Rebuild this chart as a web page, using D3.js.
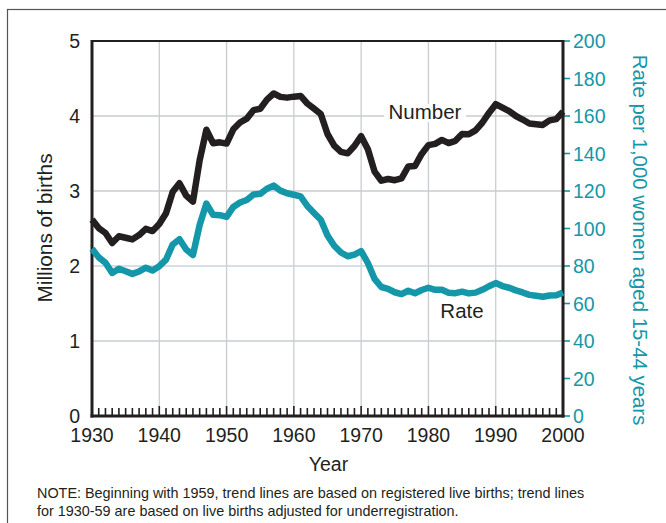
<!DOCTYPE html>
<html>
<head>
<meta charset="utf-8">
<script src="https://cdn.jsdelivr.net/npm/d3@7"></script>
<style>
  body { margin: 0; background: #fff; }
  svg { font-family: "Liberation Sans", Arial, sans-serif; }
</style>
</head>
<body>
<div id="chart"></div>
<script>
var years = d3.range(1930, 2001);
var births = [2.618, 2.506, 2.440, 2.307, 2.396, 2.377, 2.355, 2.413, 2.496, 2.466,
  2.559, 2.703, 2.989, 3.104, 2.939, 2.858, 3.411, 3.817, 3.637, 3.649,
  3.632, 3.823, 3.913, 3.965, 4.078, 4.097, 4.218, 4.300, 4.255, 4.245,
  4.258, 4.268, 4.167, 4.098, 4.027, 3.760, 3.606, 3.521, 3.502, 3.600,
  3.731, 3.556, 3.258, 3.137, 3.160, 3.144, 3.168, 3.327, 3.333, 3.494,
  3.612, 3.629, 3.681, 3.639, 3.669, 3.761, 3.757, 3.809, 3.910, 4.041,
  4.158, 4.111, 4.065, 4.000, 3.953, 3.900, 3.891, 3.881, 3.942, 3.959, 4.059];
var rates = [89.2, 84.6, 81.7, 76.3, 78.5, 77.2, 75.8, 77.1, 79.1, 77.6,
  79.9, 83.4, 91.5, 94.3, 88.8, 85.9, 101.9, 113.3, 107.3, 107.1,
  106.2, 111.5, 113.9, 115.2, 118.1, 118.5, 121.2, 122.9, 120.2, 118.8,
  118.0, 117.1, 112.0, 108.3, 104.7, 96.3, 90.8, 87.2, 85.2, 86.1,
  87.9, 81.6, 73.1, 68.8, 67.8, 66.0, 65.0, 66.8, 65.5, 67.2,
  68.4, 67.3, 67.3, 65.7, 65.5, 66.3, 65.4, 65.8, 67.3, 69.2,
  70.9, 69.3, 68.4, 67.0, 65.9, 64.6, 64.1, 63.6, 64.3, 64.4, 65.9];
var leftTicks = [0, 1, 2, 3, 4, 5];
var rightTicks = [0, 20, 40, 60, 80, 100, 120, 140, 160, 180, 200];
var decadeTicks = [1930, 1940, 1950, 1960, 1970, 1980, 1990, 2000];

var W = 666, H = 523;
var plotL = 92, plotR = 563, plotT = 41, plotB = 416;
var teal = "#1497a8", dark = "#231f20", grid = "#c9cdd1";

var svg = d3.select("#chart").append("svg").attr("width", W).attr("height", H);

// outer frame
svg.append("rect").attr("x", 7.5).attr("y", 9.5).attr("width", 700).attr("height", 600)
  .attr("fill", "none").attr("stroke", "#555").attr("stroke-width", 1.2);

var x = d3.scaleLinear().domain([1930, 2000]).range([plotL, plotR]);
var yL = d3.scaleLinear().domain([0, 5]).range([plotB, plotT]);
var yR = d3.scaleLinear().domain([0, 200]).range([plotB, plotT]);

// gridlines
svg.append("g").selectAll("line").data(decadeTicks.slice(1, -1)).enter().append("line")
  .attr("x1", d => x(d)).attr("x2", d => x(d)).attr("y1", plotT).attr("y2", plotB)
  .attr("stroke", grid).attr("stroke-width", 1.3);
svg.append("g").selectAll("line").data(leftTicks.slice(1, -1)).enter().append("line")
  .attr("x1", plotL).attr("x2", plotR).attr("y1", d => yL(d)).attr("y2", d => yL(d))
  .attr("stroke", d => d == 2 ? "#c6d6dc" : grid).attr("stroke-width", 1.3);

// year ticks (inside, upward)
svg.append("g").selectAll("line").data(years).enter().append("line")
  .attr("x1", d => x(d)).attr("x2", d => x(d))
  .attr("y1", plotB).attr("y2", d => plotB - (d % 10 == 0 ? 10 : 8))
  .attr("stroke", dark).attr("stroke-width", 1.6);

// right ticks (teal, outward)
svg.append("g").selectAll("line").data(rightTicks).enter().append("line")
  .attr("x1", plotR).attr("x2", plotR + 7).attr("y1", d => yR(d)).attr("y2", d => yR(d))
  .attr("stroke", teal).attr("stroke-width", 1.6);

// frame of plot
svg.append("line").attr("x1", plotL).attr("x2", plotR).attr("y1", plotT).attr("y2", plotT)
  .attr("stroke", dark).attr("stroke-width", 2);
svg.append("line").attr("x1", plotR).attr("x2", plotR).attr("y1", plotT - 1).attr("y2", plotB + 1.5)
  .attr("stroke", dark).attr("stroke-width", 3);
svg.append("line").attr("x1", plotL).attr("x2", plotL).attr("y1", plotT - 1).attr("y2", plotB + 1.5)
  .attr("stroke", dark).attr("stroke-width", 3);
svg.append("line").attr("x1", plotL - 1.5).attr("x2", plotR + 1.5).attr("y1", plotB).attr("y2", plotB)
  .attr("stroke", dark).attr("stroke-width", 3);

// lines
var lineB = d3.line().x((d, i) => x(years[i])).y(d => yL(d));
var lineR = d3.line().x((d, i) => x(years[i])).y(d => yR(d));

svg.append("path").datum(rates).attr("d", lineR).attr("fill", "none")
  .attr("stroke", teal).attr("stroke-width", 6.5).attr("stroke-linejoin", "round");
svg.append("path").datum(births).attr("d", lineB).attr("fill", "none")
  .attr("stroke", dark).attr("stroke-width", 6.5).attr("stroke-linejoin", "round");

// labels on lines
svg.append("rect").attr("x", 384).attr("y", 104).attr("width", 82).attr("height", 18).attr("fill", "#fff");
svg.append("text").attr("x", 425).attr("y", 119).attr("text-anchor", "middle")
  .attr("font-size", 20.5).attr("fill", dark).text("Number");
svg.append("text").attr("x", 462).attr("y", 318).attr("text-anchor", "middle")
  .attr("font-size", 20.5).attr("fill", dark).text("Rate");

// left tick labels
svg.append("g").selectAll("text").data(leftTicks).enter().append("text")
  .attr("x", 80).attr("y", d => yL(d) + 7).attr("text-anchor", "end")
  .attr("font-size", 19.5).attr("fill", dark).text(d => d);

// right tick labels
svg.append("g").selectAll("text").data(rightTicks).enter().append("text")
  .attr("x", 573).attr("y", d => yR(d) + 7).attr("text-anchor", "start")
  .attr("font-size", 19.5).attr("fill", teal).text(d => d);

// x tick labels
svg.append("g").selectAll("text").data(decadeTicks).enter().append("text")
  .attr("x", d => x(d)).attr("y", 442).attr("text-anchor", "middle")
  .attr("font-size", 19.5).attr("fill", dark).text(d => d);

// axis titles
svg.append("text").attr("x", 328.5).attr("y", 471).attr("text-anchor", "middle")
  .attr("font-size", 19.5).attr("fill", dark).text("Year");
svg.append("text").attr("transform", "translate(52,228) rotate(-90)").attr("text-anchor", "middle")
  .attr("font-size", 20.8).attr("fill", dark).text("Millions of births");
svg.append("text").attr("transform", "translate(633,240) rotate(90)").attr("text-anchor", "middle")
  .attr("font-size", 20.4).attr("fill", teal).text("Rate per 1,000 women aged 15-44 years");

// note
svg.append("text").attr("x", 37).attr("y", 498).attr("font-size", 14.4).attr("fill", dark)
  .text("NOTE: Beginning with 1959, trend lines are based on registered live births; trend lines");
svg.append("text").attr("x", 37).attr("y", 516).attr("font-size", 14.4).attr("fill", dark)
  .text("for 1930-59 are based on live births adjusted for underregistration.");
</script>
</body>
</html>
